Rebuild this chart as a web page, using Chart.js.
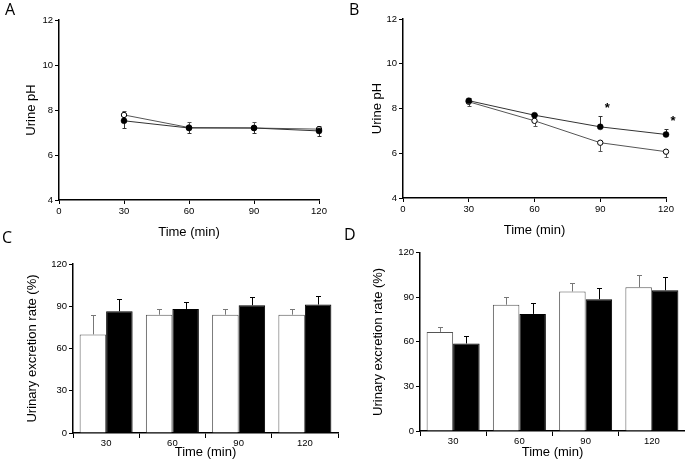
<!DOCTYPE html>
<html><head><meta charset="utf-8">
<script src="https://cdn.jsdelivr.net/npm/chart.js@4"></script>
<style>
html,body{margin:0;padding:0;background:#fff;}
#wrap{position:relative;width:685px;height:462px;overflow:hidden;background:#fff;}
canvas{position:absolute;}
.lbl{position:absolute;font-family:"Open Sans",sans-serif;font-size:16px;color:#000;line-height:15px;}
</style></head><body>
<div id="wrap">
<canvas id="cA" width="340" height="245" style="left:0;top:0"></canvas>
<canvas id="cB" width="345" height="245" style="left:340px;top:0"></canvas>
<canvas id="cC" width="340" height="217" style="left:0;top:245px"></canvas>
<canvas id="cD" width="345" height="217" style="left:340px;top:245px"></canvas>
<div class="lbl" style="left:5px;top:2px">A</div>
<div class="lbl" style="left:349px;top:2px">B</div>
<div class="lbl" style="left:2px;top:230px">C</div>
<div class="lbl" style="left:344px;top:227px">D</div>
</div>
<script>
// ---- data ----
const times = [30, 60, 90, 120];
const timeLabels = ['30', '60', '90', '120'];
const xTicksLine = [0, 30, 60, 90, 120];
const phTicks = [4, 6, 8, 10, 12];
const rateTicks = [0, 30, 60, 90, 120];

const phA_open = [7.78, 7.22, 7.2, 7.15];
const phA_openErr = [0.18, 0.26, 0.28, 0.15];
const phA_filled = [7.52, 7.2, 7.2, 7.07];
const phA_filledErr = [0.31, 0.24, 0.21, 0.23];

const phB_open = [8.3, 7.45, 6.47, 6.07];
const phB_openErr = [0.2, 0.25, 0.36, 0.22];
const phB_filled = [8.35, 7.7, 7.18, 6.84];
const phB_filledErr = [0.1, 0.05, 0.48, 0.23];
const phB_sigTimes = [90, 120];

const rateC_open = [70, 84, 84, 84];
const rateC_openErr = [14, 4, 4, 4];
const rateC_filled = [86.4, 88.1, 90.7, 91.2];
const rateC_filledErr = [8.4, 5, 6, 6.2];

const rateD_open = [66.7, 85, 93.9, 96.8];
const rateD_openErr = [3.3, 5.3, 6, 8];
const rateD_filled = [58.9, 78.8, 88.7, 94.7];
const rateD_filledErr = [4.9, 7.1, 7.8, 8.8];

// ---- helpers ----
Chart.defaults.font.family = "'Liberation Sans', Arial, sans-serif";
Chart.defaults.font.weight = 'normal';
Chart.defaults.color = '#000';
Chart.defaults.animation = false;

function drawErrors(chart) {
  const ctx = chart.ctx, ys = chart.scales.y;
  chart.data.datasets.forEach((ds, i) => {
    if (!ds.errors) return;
    const meta = chart.getDatasetMeta(i);
    meta.data.forEach((el, j) => {
      const v = ds.data[j];
      const val = (typeof v === 'object') ? v.y : v;
      const x = Math.round(el.x) + 0.5;
      const y0 = ys.getPixelForValue(val);
      const y1 = Math.round(ys.getPixelForValue(val + ds.errDir * ds.errors[j])) + 0.5;
      ctx.save();
      ctx.strokeStyle = ds.errColor;
      ctx.lineWidth = 1;
      ctx.beginPath();
      ctx.moveTo(x, y0); ctx.lineTo(x, y1);
      ctx.moveTo(x - ds.errCap, y1); ctx.lineTo(x + ds.errCap, y1);
      ctx.stroke();
      ctx.restore();
    });
  });
}

function axisCommon(extra) {
  return Object.assign({
    grid: {drawOnChartArea: false, drawTicks: true, tickLength: 4, color: '#000', lineWidth: 1},
    border: {display: true, color: '#000', width: 1.5},
  }, extra);
}
const tickFont = {size: 9.5, weight: 'normal'};
const titleFont = {size: 13, weight: 'normal'};

function lineChart(id, fill, fillErr, fillDir, open, openErr, openDir, g, extraPlugins) {
  return new Chart(document.getElementById(id), {
    type: 'scatter',
    data: {
      datasets: [
        {data: times.map((t, i) => ({x: t, y: fill[i]})), showLine: true, borderColor: '#333', borderWidth: 1,
         pointRadius: 3, pointBackgroundColor: '#000', pointBorderColor: '#000', pointBorderWidth: 0.5,
         errors: fillErr, errDir: fillDir, errColor: '#333', errCap: 2, clip: false},
        {data: times.map((t, i) => ({x: t, y: open[i]})), showLine: true, borderColor: '#555', borderWidth: 1,
         pointRadius: 2.7, pointBackgroundColor: '#fff', pointBorderColor: '#000', pointBorderWidth: 1,
         errors: openErr, errDir: openDir, errColor: '#555', errCap: 2, clip: false}
      ]
    },
    options: {
      responsive: false, animation: false,
      layout: {padding: {top: g.padTop, right: g.padRight, left: 0, bottom: 0}},
      plugins: {legend: {display: false}, tooltip: {enabled: false}},
      scales: {
        x: axisCommon({type: 'linear', min: 0, max: 120,
          afterBuildTicks: s => { s.ticks = xTicksLine.map(v => ({value: v})); },
          ticks: {font: tickFont, color: '#000', padding: 2, maxRotation: 0},
          title: {display: true, text: 'Time (min)', font: titleFont, color: '#000', padding: {top: 0, bottom: g.xTitlePad}},
          afterFit: s => { s.height = g.xh; }}),
        y: axisCommon({type: 'linear', min: 4, max: 12,
          afterBuildTicks: s => { s.ticks = phTicks.map(v => ({value: v})); },
          ticks: {font: tickFont, color: '#000', padding: 2},
          title: {display: true, text: 'Urine pH', font: titleFont, color: '#000', padding: {top: g.yTitlePad, bottom: 0}},
          afterFit: s => { s.width = g.yw; }})
      }
    },
    plugins: [{id: 'err', beforeDatasetsDraw: c => drawErrors(c)}].concat(extraPlugins || [])
  });
}

function barChart(id, open, openErr, fill, fillErr, g) {
  return new Chart(document.getElementById(id), {
    type: 'bar',
    data: {
      labels: timeLabels,
      datasets: [
        {data: open, backgroundColor: '#fff', borderColor: '#555', borderWidth: 1, borderSkipped: 'bottom',
         errors: openErr, errDir: 1, errColor: '#777', errCap: 2.5},
        {data: fill, backgroundColor: '#000', borderColor: '#000', borderWidth: 1, borderSkipped: 'bottom',
         errors: fillErr, errDir: 1, errColor: '#000', errCap: 2.5}
      ]
    },
    options: {
      responsive: false, animation: false,
      datasets: {bar: {categoryPercentage: 0.8, barPercentage: 1.0}},
      layout: {padding: {top: g.padTop, right: g.padRight, left: 0, bottom: 0}},
      plugins: {legend: {display: false}, tooltip: {enabled: false}},
      scales: {
        x: axisCommon({type: 'category', offset: true,
          grid: {offset: true, drawOnChartArea: false, drawTicks: true, tickLength: 5, color: '#000', lineWidth: 1},
          ticks: {font: tickFont, color: '#000', padding: 0, maxRotation: 0},
          title: {display: true, text: 'Time (min)', font: titleFont, color: '#000', padding: {top: 0, bottom: g.xTitlePad}},
          afterFit: s => { s.height = g.xh; }}),
        y: axisCommon({type: 'linear', min: 0, max: 120,
          afterBuildTicks: s => { s.ticks = rateTicks.map(v => ({value: v})); },
          ticks: {font: tickFont, color: '#000', padding: 2},
          title: {display: true, text: 'Urinary excretion rate (%)', font: titleFont, color: '#000', padding: {top: g.yTitlePad, bottom: 0}},
          afterFit: s => { s.width = g.yw; }})
      }
    },
    plugins: [{id: 'err', afterDatasetsDraw: c => drawErrors(c)}]
  });
}

const sigPlugin = {
  id: 'sig',
  afterDraw(chart) {
    const ctx = chart.ctx, xs = chart.scales.x, ys = chart.scales.y;
    ctx.save();
    ctx.font = "bold 13px 'Liberation Sans', Arial, sans-serif";
    ctx.fillStyle = '#000';
    ctx.textAlign = 'center';
    ctx.textBaseline = 'middle';
    phB_sigTimes.forEach(t => {
      const j = times.indexOf(t);
      const x = xs.getPixelForValue(t) + 7;
      const y = ys.getPixelForValue(phB_filled[j] + phB_filledErr[j]) - 8;
      ctx.fillText('*', x, y);
    });
    ctx.restore();
  }
};

lineChart('cA', phA_filled, phA_filledErr, -1, phA_open, phA_openErr, 1,
  {yw: 59, xh: 45, padTop: 20, padRight: 21, yTitlePad: 24, xTitlePad: 5});
lineChart('cB', phB_filled, phB_filledErr, 1, phB_open, phB_openErr, -1,
  {yw: 63, xh: 47, padTop: 19, padRight: 19, yTitlePad: 30, xTitlePad: 7}, [sigPlugin]);
barChart('cC', rateC_open, rateC_openErr, rateC_filled, rateC_filledErr,
  {yw: 73, xh: 29, padTop: 19, padRight: 2, yTitlePad: 25, xTitlePad: 2});
barChart('cD', rateD_open, rateD_openErr, rateD_filled, rateD_filledErr,
  {yw: 80, xh: 31, padTop: 7, padRight: 0, yTitlePad: 31, xTitlePad: 2});
</script>
</body></html>
